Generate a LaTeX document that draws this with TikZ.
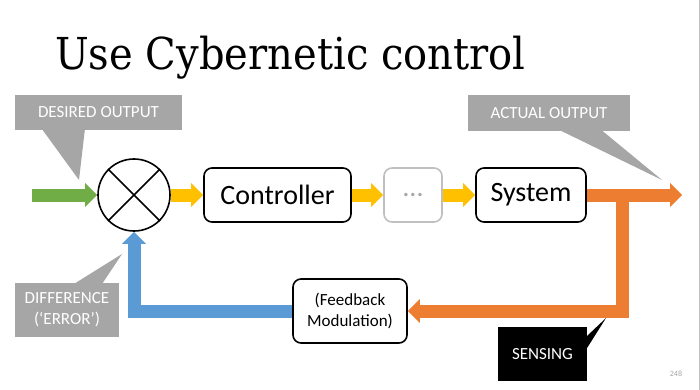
\documentclass[tikz,border=0pt]{standalone}
\usepackage{fontspec}
\setmainfont{Carlito}
\newfontfamily\titlefont{DejaVu Serif}
\usetikzlibrary{arrows.meta}
\definecolor{callgray}{RGB}{166,166,166}
\definecolor{dotsgray}{RGB}{191,191,191}
\definecolor{pathgreen}{RGB}{112,173,71}
\definecolor{pathyellow}{RGB}{255,192,0}
\definecolor{pathorange}{RGB}{237,125,49}
\definecolor{pathblue}{RGB}{91,155,213}
\tikzset{block/.style={draw=black,line width=1.6pt,rounded corners=8pt,minimum height=54pt,inner sep=2pt,
                       font=\fontsize{28}{30}\selectfont},
         flow/.style={line width=13pt,line join=miter,-{Triangle[width=24pt,length=12pt,line width=0pt]}},
         callout/.style={fill=callgray,text=white,inner sep=0pt,align=center,font=\fontsize{17}{21}\selectfont},
         tip/.style={fill=callgray}}

\begin{document}
\begin{tikzpicture}[x=1pt,y=-1pt]
  \useasboundingbox (0,0) rectangle (700,390);
  \draw[dotsgray,line width=1pt] (699,0) -- (699,390);
  % title
  \node[anchor=base west,inner sep=0pt] (title) at (55,70)
    {\titlefont\fontsize{44}{50}\selectfont\scalebox{0.91}[1]{Use Cybernetic control}};
  % forward path
  \node[circle,draw,line width=1.6pt,minimum size=72pt,inner sep=0pt] (sum) at (134,195) {};
  \draw[line width=1.6pt] (sum.north west) -- (sum.south east)
                          (sum.north east) -- (sum.south west);
  \node[block,minimum width=147pt] (ctrl) at (277.5,195) {Controller};
  \node[block,draw=dotsgray,text=callgray,minimum width=58pt] (dots) at (413,195) {\ldots};
  \node[block,minimum width=110pt] (sys) at (531,195) {System};
  \node[block,align=center,font=\fontsize{17}{21}\selectfont,minimum width=114pt,minimum height=64pt]
    (fb) at (350,311) {(Feedback\\Modulation)};
  \coordinate (in) at (32,195);
  \coordinate (out) at (682,195);
  \coordinate (tap) at (622,195);
  \draw[flow,pathgreen] (in) -- (sum.west);
  \draw[flow,pathyellow] (sum.east) -- (ctrl.west);
  \draw[flow,pathyellow] (ctrl.east) -- (dots.west);
  \draw[flow,pathyellow] (dots.east) -- (sys.west);
  \draw[flow,pathorange] (sys.east) -- (out);
  % feedback path
  \draw[flow,pathorange] (tap) |- (fb.east);
  \draw[flow,pathblue] (fb.west) -| (sum.south);
  % callouts
  \node[callout,minimum width=167pt,minimum height=35pt] (desired) at (98.5,112.5) {DESIRED OUTPUT};
  \coordinate (desiredtip) at (79,180);
  \fill[tip] ([xshift=28pt]desired.south west) -- (desiredtip) -- ([xshift=70pt]desired.south west) -- cycle;
  \node[callout,minimum width=162pt,minimum height=36pt] (actual) at (549,113) {ACTUAL OUTPUT};
  \coordinate (actualtip) at (662,180);
  \fill[tip] ([xshift=94pt]actual.south west) -- (actualtip) -- ([xshift=135pt]actual.south west) -- cycle;
  \node[callout,minimum width=104pt,minimum height=54pt] (diff) at (67,310) {DIFFERENCE\\(‘ERROR’)};
  \coordinate (difftip) at (122,254);
  \fill[tip] ([xshift=61pt]diff.north west) -- (difftip) -- ([xshift=88pt]diff.north west) -- cycle;
  \node[callout,fill=black,minimum width=89pt,minimum height=54pt] (sense) at (542.5,354) {SENSING};
  \coordinate (sensetip) at (606,318);
  \fill[black] ([yshift=-9pt]sense.north east) -- (sensetip) -- ([yshift=-21pt]sense.north east) -- cycle;
  % page number
  \node[text=callgray,font=\fontsize{8}{9}\selectfont] (page) at (676,374) {248};
\end{tikzpicture}
\end{document}
